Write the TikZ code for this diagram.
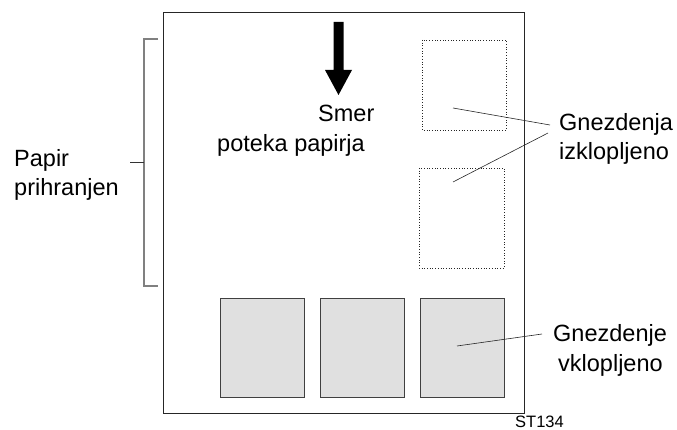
\documentclass[tikz,border=0pt]{standalone}
\usepackage{fontspec}
\setmainfont{Liberation Sans}
\begin{document}
\begin{tikzpicture}[x=1pt,y=-1pt,
  lbl/.style={anchor=base west,inner sep=0pt,font=\fontsize{23.5}{28}\selectfont},
  smalllbl/.style={anchor=base west,inner sep=0pt,font=\fontsize{16.5}{20}\selectfont},
  page/.style={draw=black!85,line width=0.9pt},
  bracket/.style={draw=black!50,line width=1.1pt},
  offbox/.style={draw=black!85,dotted,line width=0.7pt},
  onbox/.style={draw=black!75,fill=black!12,line width=0.9pt},
  leader/.style={draw=black!85,line width=0.6pt}]
\useasboundingbox (0,0) rectangle (677,430);
% page
\draw[page] (163,12) rectangle (524,413);
% bracket
\draw[bracket] (158,39) -- (144,39) -- (144,286) -- (158,286);
\coordinate (brmid) at (144,162);
\coordinate (brtick) at (130,162);
\draw[leader,black!80] (brtick) -- (brmid);
\node[lbl] (papir) at (14,167) {Papir};
\node[lbl] (prihr) at (14,196) {prihranjen};
% arrow
\fill[black] (333.5,22) -- (343.5,22) -- (343.5,70) -- (352,70) -- (338.5,95) -- (325,70) -- (333.5,70) -- cycle;
\node[lbl] (smer) at (318,122) {Smer};
\node[lbl] (poteka) at (217,152) {poteka papirja};
% nesting off
\draw[offbox] (422,40) rectangle (506,130);
\draw[offbox] (419,168) rectangle (504,268);
\coordinate (off1) at (453,108);
\coordinate (off2) at (453,182);
\coordinate (offt1) at (550,125);
\coordinate (offt2) at (548,133);
\draw[leader] (off1) -- (offt1);
\draw[leader] (off2) -- (offt2);
\node[lbl] (gnez1) at (559,131) {Gnezdenja};
\node[lbl] (izkl) at (559,160) {izklopljeno};
% nesting on
\draw[onbox] (220,298) rectangle (304,397);
\draw[onbox] (320,298) rectangle (404,397);
\draw[onbox] (420,298) rectangle (504,397);
\coordinate (on1) at (457,346);
\coordinate (ont1) at (542,334);
\draw[leader] (on1) -- (ont1);
\node[lbl] (gnez2) at (553,341) {Gnezdenje};
\node[lbl] (vkl) at (558,371) {vklopljeno};
\node[smalllbl] (st) at (515,427) {ST134};
\end{tikzpicture}
\end{document}
